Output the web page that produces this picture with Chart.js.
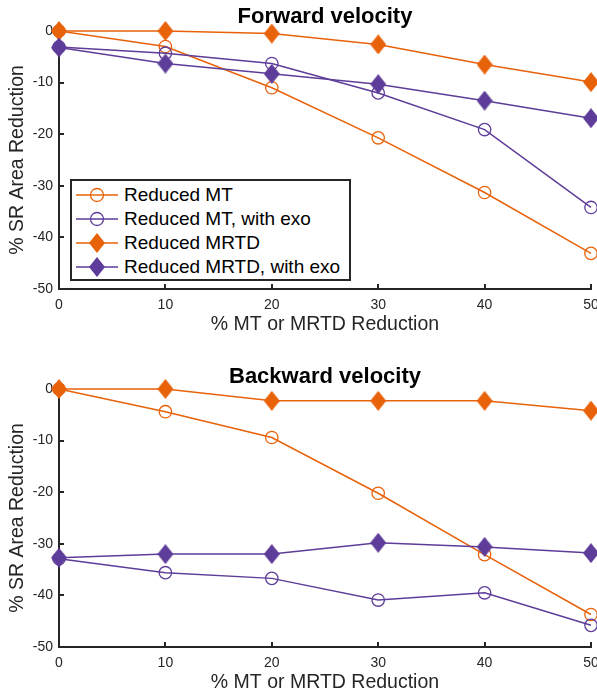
<!DOCTYPE html>
<html>
<head>
<meta charset="utf-8">
<script src="https://cdn.jsdelivr.net/npm/chart.js@4.4.0/dist/chart.umd.min.js"></script>
<style>
  body { margin: 0; background: #fff; width: 597px; height: 696px; overflow: hidden; position: relative;
         font-family: "Liberation Sans", Arial, Helvetica, sans-serif; }
  .panel { position: absolute; left: 0; width: 640px; height: 340px; }
  #fwd { top: 0; }
  #bwd { top: 358px; }
  .title { position: absolute; left: 225px; width: 200px; text-align: center; font-weight: bold;
           font-size: 22px; line-height: 26px; color: #000; }
  #legend { position: absolute; left: 70px; top: 179px; width: 277px; height: 96px;
            border: 2px solid #262626; background: #fff; padding-top: 2px; box-sizing: content-box; }
  #legend .row { height: 24px; display: flex; align-items: center; font-size: 19px; color: #000; }
  #legend svg { margin-left: 4px; margin-right: 6px; }
</style>
</head>
<body>
<canvas id="fwd" class="panel" width="640" height="340"></canvas>
<canvas id="bwd" class="panel" width="640" height="340"></canvas>
<div class="title" style="top:3px">Forward velocity</div>
<div class="title" style="top:363px">Backward velocity</div>
<div id="legend"></div>
<script>
const reduction = [0, 10, 20, 30, 40, 50];
const seriesNames = ["Reduced MT", "Reduced MT, with exo", "Reduced MRTD", "Reduced MRTD, with exo"];

// Forward velocity
const fwdMT      = [0, -3.0, -11.0, -20.7, -31.3, -43.1];
const fwdMTExo   = [-3.1, -4.3, -6.3, -12.0, -19.1, -34.2];
const fwdMRTD    = [0, 0, -0.5, -2.6, -6.5, -9.9];
const fwdMRTDExo = [-3.2, -6.3, -8.3, -10.3, -13.5, -16.9];

// Backward velocity
const bwdMT      = [0, -4.4, -9.4, -20.2, -32.1, -43.7];
const bwdMTExo   = [-32.9, -35.6, -36.7, -40.9, -39.5, -45.8];
const bwdMRTD    = [0, 0, -2.3, -2.3, -2.3, -4.2];
const bwdMRTDExo = [-32.7, -32.0, -32.0, -29.8, -30.6, -31.8];

const ORANGE = '#E8620A';
const PURPLE = '#5E3C99';
const AXIS = '#262626';
const FONT = '"Liberation Sans", Arial, Helvetica, sans-serif';

// MATLAB style diamond, a bit taller than wide
function diamond(color) {
  const c = document.createElement('canvas');
  c.width = 16; c.height = 20;
  const g = c.getContext('2d');
  g.fillStyle = color;
  g.beginPath();
  g.moveTo(8, 0); g.lineTo(16, 10); g.lineTo(8, 20); g.lineTo(0, 10);
  g.closePath(); g.fill();
  return c;
}
const markers = [
  {color: ORANGE, style: 'circle'},
  {color: PURPLE, style: 'circle'},
  {color: ORANGE, style: diamond(ORANGE)},
  {color: PURPLE, style: diamond(PURPLE)}
];

function makeSets(lists) {
  return lists.map((vals, i) => ({
    label: seriesNames[i],
    data: vals.map((v, j) => ({x: reduction[j], y: v})),
    borderColor: markers[i].color,
    backgroundColor: 'rgba(0,0,0,0)',
    borderWidth: 1.5,
    pointStyle: markers[i].style,
    pointRadius: 6.2,
    pointBorderWidth: 1.3,
    pointBorderColor: markers[i].color,
    pointBackgroundColor: 'rgba(0,0,0,0)',
    tension: 0,
    clip: false,
    order: 4 - i
  }));
}

function makeChart(id, lists) {
  return new Chart(document.getElementById(id), {
    type: 'line',
    data: {datasets: makeSets(lists)},
    options: {
      responsive: false,
      animation: false,
      events: [],
      layout: {padding: {left: 0, right: 49, top: 31, bottom: 0}},
      plugins: {
        legend: {display: false},
        tooltip: {enabled: false}
      },
      scales: {
        x: {
          type: 'linear', min: 0, max: 50,
          border: {color: AXIS, width: 2},
          grid: {drawOnChartArea: false, drawTicks: true, tickLength: -5, color: AXIS, lineWidth: 2},
          ticks: {stepSize: 10, padding: 13, color: AXIS, font: {family: FONT, size: 14}},
          title: {display: true, text: '% MT or MRTD Reduction', color: AXIS,
                  font: {family: FONT, size: 19.5, lineHeight: 1.2}, padding: {top: 0, bottom: 4}},
          afterFit: s => { s.height = 51; }
        },
        y: {
          min: -50, max: 0,
          border: {color: AXIS, width: 2},
          grid: {drawOnChartArea: false, drawTicks: true, tickLength: -5, color: AXIS, lineWidth: 2},
          ticks: {stepSize: 10, padding: 11, color: AXIS, font: {family: FONT, size: 14}},
          title: {display: true, text: '% SR Area Reduction', color: AXIS,
                  font: {family: FONT, size: 19.5, lineHeight: 1.2}, padding: {top: 6, bottom: 0}},
          afterFit: s => { s.width = 59; }
        }
      }
    }
  });
}

makeChart('fwd', [fwdMT, fwdMTExo, fwdMRTD, fwdMRTDExo]);
makeChart('bwd', [bwdMT, bwdMTExo, bwdMRTD, bwdMRTDExo]);

// legend inside the upper axes
const legend = document.getElementById('legend');
seriesNames.forEach((name, i) => {
  const m = markers[i];
  const shape = m.style === 'circle'
    ? `<circle cx="21" cy="12" r="6.5" fill="none" stroke="${m.color}" stroke-width="1.3"/>`
    : `<polygon points="21,2 29,12 21,22 13,12" fill="${m.color}"/>`;
  const row = document.createElement('div');
  row.className = 'row';
  row.innerHTML = `<svg width="42" height="24"><line x1="0" y1="12" x2="42" y2="12" stroke="${m.color}" stroke-width="1.5"/>${shape}</svg><span>${name}</span>`;
  legend.appendChild(row);
});
</script>
</body>
</html>
